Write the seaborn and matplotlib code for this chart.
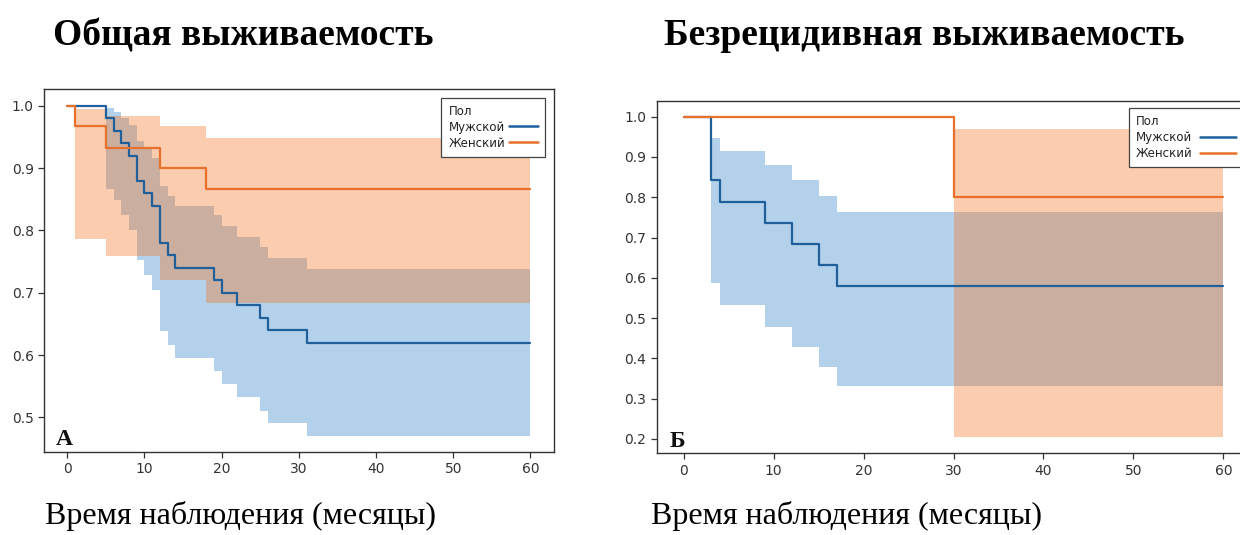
import numpy as np
import pandas as pd
import matplotlib
matplotlib.use("Agg")
import matplotlib.pyplot as plt
from matplotlib.lines import Line2D
from matplotlib.ticker import MultipleLocator, FormatStrFormatter
import seaborn as sns

# ---- Общая выживаемость (Kaplan–Meier, 95% CI) ----
os_male_t = [0, 5, 6, 7, 8, 9, 10, 11, 12, 13, 14, 19, 20, 22, 25, 26, 31, 60]
os_male_s = [1.0, 0.98, 0.96, 0.94, 0.92, 0.88, 0.86, 0.84, 0.78, 0.76, 0.74,
             0.72, 0.70, 0.68, 0.66, 0.64, 0.62, 0.62]
os_male_lo = [1.0, 0.866, 0.849, 0.825, 0.801, 0.752, 0.729, 0.705, 0.638, 0.616,
              0.595, 0.574, 0.553, 0.532, 0.511, 0.491, 0.471, 0.471]
os_male_hi = [1.0, 0.997, 0.990, 0.980, 0.969, 0.944, 0.931, 0.917, 0.872, 0.856,
              0.840, 0.824, 0.807, 0.790, 0.773, 0.756, 0.738, 0.738]

os_female_t = [0, 1, 5, 12, 18, 60]
os_female_s = [1.0, 0.967, 0.933, 0.900, 0.867, 0.867]
os_female_lo = [1.0, 0.786, 0.759, 0.721, 0.683, 0.683]
os_female_hi = [1.0, 0.995, 0.983, 0.967, 0.948, 0.948]

# ---- Безрецидивная выживаемость ----
rfs_male_t = [0, 3, 4, 9, 12, 15, 17, 60]
rfs_male_s = [1.0, 0.842, 0.789, 0.737, 0.684, 0.632, 0.579, 0.579]
rfs_male_lo = [1.0, 0.587, 0.532, 0.479, 0.428, 0.379, 0.332, 0.332]
rfs_male_hi = [1.0, 0.946, 0.915, 0.881, 0.844, 0.804, 0.763, 0.763]

rfs_female_t = [0, 30, 60]
rfs_female_s = [1.0, 0.8, 0.8]
rfs_female_lo = [1.0, 0.204, 0.204]
rfs_female_hi = [1.0, 0.969, 0.969]

groups = ["Мужской", "Женский"]
legend_title = "Пол"
titles = ["Общая выживаемость", "Безрецидивная выживаемость"]
xlabel = "Время наблюдения (месяцы)"
panel_letters = ["А", "Б"]

line_colors = {"Мужской": "#1f5f9a", "Женский": "#e8702a"}
band_colors = {"Мужской": "#2a7ccb", "Женский": "#f56e14"}

sns.set_style("ticks", {"axes.edgecolor": "#333333", "xtick.color": "#333333",
                        "ytick.color": "#333333", "text.color": "#222222"})
plt.rcParams["font.family"] = ["DejaVu Sans"]

W, H = 1240, 535
fig = plt.figure(figsize=(W / 100, H / 100), dpi=100)
ax1 = fig.add_axes([44.1 / W, 83 / H, 509.5 / W, 362.7 / H])
ax2 = fig.add_axes([656.7 / W, 81.7 / H, 593.6 / W, 352.6 / H])


def km_frame(parts):
    rows = []
    for g, (t, s, lo, hi) in parts.items():
        for ti, si, li, hi_ in zip(t, s, lo, hi):
            rows.append({"t": ti, "s": si, "lo": li, "hi": hi_, "Пол": g})
    return pd.DataFrame(rows)


def draw_panel(ax, df):
    for g in groups:
        d = df[df["Пол"] == g]
        ax.fill_between(d["t"], d["lo"], d["hi"], step="post",
                        color=band_colors[g], alpha=0.35, linewidth=0)
    sns.lineplot(data=df, x="t", y="s", hue="Пол", hue_order=groups,
                 palette=line_colors, estimator=None, sort=True,
                 drawstyle="steps-post", linewidth=1.6, legend=False, ax=ax)
    ax.set_xlabel("")
    ax.set_ylabel("")
    ax.margins(x=0.05, y=0.05)
    ax.xaxis.set_major_locator(MultipleLocator(10))
    ax.yaxis.set_major_locator(MultipleLocator(0.1))
    ax.yaxis.set_major_formatter(FormatStrFormatter("%.1f"))
    ax.tick_params(labelsize=10, length=4, width=0.9)
    for sp in ax.spines.values():
        sp.set_linewidth(1.0)


df_os = km_frame({
    "Мужской": (os_male_t, os_male_s, os_male_lo, os_male_hi),
    "Женский": (os_female_t, os_female_s, os_female_lo, os_female_hi),
})
df_rfs = km_frame({
    "Мужской": (rfs_male_t, rfs_male_s, rfs_male_lo, rfs_male_hi),
    "Женский": (rfs_female_t, rfs_female_s, rfs_female_lo, rfs_female_hi),
})

draw_panel(ax1, df_os)
draw_panel(ax2, df_rfs)

handles = [Line2D([], [], color=line_colors[g], lw=1.8) for g in groups]
for ax, hl, tp, pad in [(ax1, 2.5, 0.3, 0.7), (ax2, 3.1, 0.6, 0.6)]:
    leg = ax.legend(handles, groups, title=legend_title, loc="upper right",
                    markerfirst=False, fontsize=8.5, title_fontsize=8.5,
                    handlelength=hl, borderaxespad=pad, fancybox=False,
                    framealpha=1, edgecolor="#444444", alignment="left",
                    handletextpad=tp, labelspacing=0.25, borderpad=0.6)
    leg.get_frame().set_linewidth(0.9)

serif = ["Liberation Serif", "DejaVu Serif"]
for ax, letter in zip([ax1, ax2], panel_letters):
    ax.text(0.022, 0.018, letter, transform=ax.transAxes, fontsize=17,
            fontweight="bold", family=serif, color="#111111", va="baseline")

fig.text(243 / W, 1 - 45 / H, titles[0], ha="center", va="baseline",
         fontsize=27, fontweight="bold", family=serif, color="black")
fig.text(924 / W, 1 - 45 / H, titles[1], ha="center", va="baseline",
         fontsize=27, fontweight="bold", family=serif, color="black")
fig.text(45 / W, 1 - 524 / H, xlabel, ha="left", va="baseline",
         fontsize=23, family=serif, color="black")
fig.text(651 / W, 1 - 524 / H, xlabel, ha="left", va="baseline",
         fontsize=23, family=serif, color="black")

fig.savefig("out.png", dpi=100)
